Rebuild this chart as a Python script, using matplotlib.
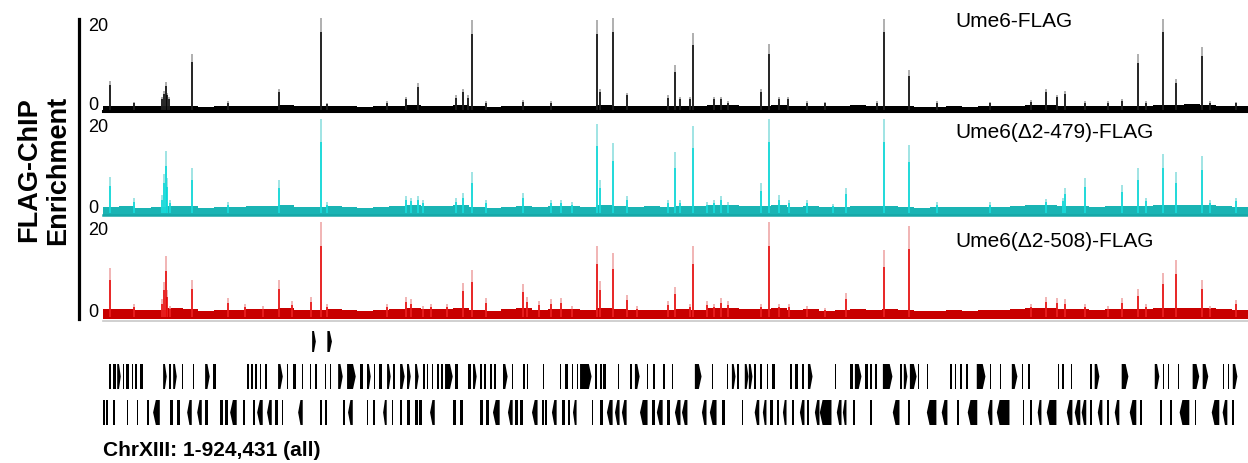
import matplotlib
matplotlib.use("Agg")
import matplotlib.pyplot as plt
from matplotlib.patches import Polygon
from matplotlib.lines import Line2D

plt.rcParams['font.family'] = ['Liberation Sans', 'DejaVu Sans']

# chromosome XIII, coordinates in kb
chrom_len = 924.431
bin_kb = 12.84

# background enrichment level, one value per 12.84 kb bin
bg_ume6 = [0.9, 1.0, 0.8, 0.9, 1.0, 0.9, 0.7, 0.8, 0.9, 1.0,
           0.9, 1.1, 0.9, 0.8, 1.0, 0.8, 0.7, 0.9, 0.9, 1.1,
           1.0, 0.9, 1.2, 0.8, 0.7, 0.8, 0.9, 0.8, 1.0, 0.9,
           0.8, 1.2, 0.9, 0.8, 0.9, 0.8, 1.0, 0.9, 1.1, 1.2,
           0.9, 1.0, 1.2, 0.9, 0.9, 0.8, 0.8, 1.1, 0.9, 1.0,
           0.8, 0.7, 0.7, 0.8, 0.7, 0.8, 0.8, 0.9, 1.1, 1.2,
           1.0, 0.9, 0.8, 0.9, 1.0, 0.9, 1.1, 1.2, 1.3, 1.1, 0.9, 0.8]
bg_d479 = [1.4, 1.6, 1.2, 1.4, 1.6, 1.5, 1.1, 1.3, 1.4, 1.6,
           1.5, 1.7, 1.4, 1.3, 1.6, 1.3, 1.2, 1.4, 1.5, 1.8,
           1.6, 1.5, 1.7, 1.3, 1.2, 1.4, 1.5, 1.3, 1.6, 1.5,
           1.3, 1.7, 1.5, 1.3, 1.5, 1.4, 1.6, 1.5, 1.7, 1.8,
           1.5, 1.6, 1.7, 1.4, 1.5, 1.3, 1.4, 1.6, 1.5, 1.6,
           1.4, 1.2, 1.3, 1.4, 1.3, 1.4, 1.4, 1.5, 1.7, 1.8,
           1.6, 1.5, 1.4, 1.5, 1.6, 1.5, 1.7, 1.8, 1.9, 1.7, 1.5, 1.4]
bg_d508 = [1.7, 1.8, 1.5, 1.6, 1.9, 1.7, 1.4, 1.5, 1.6, 1.8,
           1.7, 1.9, 1.6, 1.5, 1.8, 1.5, 1.4, 1.6, 1.7, 2.0,
           1.8, 1.7, 2.0, 1.5, 1.4, 1.8, 1.9, 1.5, 1.7, 1.8,
           1.5, 2.0, 1.7, 1.5, 1.6, 1.5, 1.8, 1.6, 1.9, 2.0,
           1.7, 1.8, 2.0, 1.6, 1.7, 1.4, 1.5, 1.8, 1.6, 1.7,
           1.5, 1.3, 1.4, 1.5, 1.4, 1.5, 1.6, 1.7, 1.9, 2.0,
           1.8, 1.7, 1.6, 1.7, 1.8, 1.7, 1.9, 2.0, 2.1, 1.9, 1.7, 1.5]

# peaks: position (kb), height (enrichment)
ume6_pos = [5.7, 25, 48, 49, 50.8, 52, 53, 71.8, 101, 142, 176, 181, 229, 245, 254, 285,
            290.5, 294.5, 298, 309, 339, 362, 399, 401, 412, 423, 456, 462, 466, 474, 476,
            493, 499, 505, 531, 537.5, 546, 553, 568, 583, 625, 630.5, 651, 673, 716, 749,
            761, 770, 776.5, 793, 811, 823, 835.5, 842, 856, 866, 887, 893.5, 915]
ume6_h = [6.8, 1.8, 3.0, 4.5, 6.6, 4.0, 3.0, 13.2, 2.0, 5.0, 21.6, 1.5, 2.0, 3.0, 6.4, 3.4,
          5.0, 3.4, 21.0, 2.0, 2.2, 2.0, 21.0, 5.0, 21.6, 4.0, 3.4, 10.5, 3.0, 3.0, 18.0,
          3.0, 3.0, 2.0, 5.0, 15.5, 3.0, 3.0, 2.0, 1.8, 2.0, 21.4, 9.3, 2.0, 1.8, 2.2,
          5.0, 3.5, 4.5, 2.0, 2.0, 2.5, 13.0, 2.0, 21.4, 7.3, 14.8, 2.0, 1.8]

d479_pos = [5.7, 25, 48, 49, 50.8, 52, 54, 71.8, 101, 142, 176, 181, 245, 249, 254, 258,
            285, 290.5, 298, 309, 339, 362, 370, 378.5, 399, 401, 412, 423, 456, 462, 466,
            476, 487.5, 493, 499, 505, 531, 537.5, 546, 554, 568, 589, 600, 630.5, 651, 673,
            716, 761, 775, 776.5, 793, 823, 835.5, 842, 856, 866, 887, 893.5, 915]
d479_h = [8.2, 3.4, 4.0, 9.0, 14.3, 8.0, 3.0, 10.2, 2.5, 7.5, 21.6, 2.5, 3.9, 3.5, 3.8, 3.0,
          3.4, 4.5, 9.3, 3.0, 4.6, 3.0, 3.0, 2.5, 20.5, 7.5, 16.0, 3.9, 3.0, 13.9, 3.0,
          20.0, 2.5, 3.0, 3.9, 2.5, 6.8, 21.6, 4.0, 3.0, 3.0, 2.0, 5.7, 21.6, 15.5, 2.5,
          2.5, 3.2, 3.5, 5.7, 8.0, 6.4, 10.2, 3.5, 13.6, 9.3, 13.0, 3.0, 3.5]

d508_pos = [5.7, 25, 48, 49, 50.8, 52, 54, 71.8, 101, 114.6, 129, 142, 152.5, 168, 176, 181,
            229, 245, 249, 258, 265, 278, 290.5, 298, 309, 339, 342, 352, 362, 370, 378.5,
            399, 401, 412, 423, 431, 456, 462, 474, 476, 487.5, 493, 499, 505, 531, 537.5,
            546, 554, 568, 583, 600, 630.5, 651, 749, 761, 770, 776.5, 793, 811, 823, 835.5,
            842, 856, 866, 887, 893.5, 915]
d508_h = [11.1, 3.0, 4.0, 8.0, 13.9, 6.0, 2.5, 8.4, 4.3, 3.0, 2.5, 8.4, 3.5, 4.5, 21.6, 3.0,
          3.0, 4.5, 4.0, 2.5, 3.0, 3.0, 7.7, 10.7, 4.3, 7.5, 4.5, 3.5, 4.0, 4.3, 2.5,
          16.1, 8.2, 14.5, 5.0, 2.5, 3.6, 6.8, 3.0, 16.1, 3.5, 3.0, 4.3, 3.5, 3.0, 21.6,
          3.0, 3.0, 2.5, 2.0, 5.4, 15.2, 20.7, 3.0, 4.5, 4.3, 4.0, 3.0, 2.5, 4.3, 6.4,
          3.0, 10.0, 13.0, 8.4, 2.5, 3.9]

track_names = ["Ume6-FLAG", "Ume6(\u03942-479)-FLAG", "Ume6(\u03942-508)-FLAG"]

# genes (start kb, end kb)
top_genes = [(168.7, 172), (181, 185)]
fwd_genes = [(4.8, 6.5), (8, 10.5), (11.3, 14.5), (16, 17), (18.6, 21), (23.4, 24.2), (25.8, 27.4),
             (29.9, 32.3), (48.4, 51.6), (53.3, 54.9), (56.5, 59.7), (63.8, 64.6), (72.6, 73.4),
             (82.3, 86.3), (88.8, 91.2), (116.2, 117.8), (119.4, 121), (122.7, 124.3), (126.7, 127.5),
             (130.7, 132.3), (141.2, 145.3), (148.5, 149.3), (153.3, 155.8), (160.6, 161.4), (167, 167.8),
             (171, 172.7), (179.2, 180), (183.2, 184), (189.7, 193.7), (196.9, 204.2), (207.4, 209.8),
             (213, 216.3), (218.7, 219.5), (222.7, 225.2), (229.2, 232.4), (234, 235.6), (239.7, 243.7),
             (245.3, 248.6), (251.8, 255), (258.2, 259.9), (261.5, 262.3), (265.5, 266.3), (269.5, 271.2),
             (272.8, 274.4), (276, 282.5), (284, 286.5), (294.6, 297), (298.6, 301.8), (304.2, 305.9),
             (307.5, 309), (312.3, 313.9), (315.5, 317.2), (322.8, 326.8), (330, 330.9), (339, 340.6),
             (342.2, 343), (355, 356), (368.8, 369.6), (372.8, 375.3), (378.5, 380), (382.5, 383.3),
             (385, 394.6), (397, 398.7), (401, 402.7), (403.5, 406), (415.6, 416.4), (425.3, 427),
             (429.3, 433.4), (439, 439.8), (443.9, 445.5), (452, 453.5), (459.2, 460), (471.3, 472),
             (475.3, 476), (477.7, 483.4), (487.4, 488.2), (491.5, 492.3), (503.6, 504.4), (507.6, 510.8),
             (511.6, 514), (518, 521.3), (521.3, 524.5), (525.3, 527), (530.2, 532.6), (535.8, 536.7),
             (539.9, 542.3), (547.9, 548.7), (554.4, 556.8), (558.4, 560.9), (564, 566.5), (569, 573),
             (590.7, 592.3), (602.8, 605.3), (606.9, 612.5), (615, 617.4), (619, 621.4), (623, 625.4),
             (629.5, 637.5), (643, 645.6), (646.4, 649.6), (651.3, 657), (657.7, 659.3), (661, 661.7),
             (665, 666.6), (675.5, 676.3), (683.5, 686), (687.6, 689.2), (691.6, 694), (697, 698.9),
             (701.3, 702), (705.3, 712.6), (715.8, 717.4), (723.9, 725.5), (733.6, 738.4), (741.6, 743.3),
             (746.5, 748.9), (753.7, 754.5), (757.8, 758.6), (761.8, 762.6), (770.7, 772.3), (774, 776.3),
             (778, 778.8), (781.2, 782.8), (796.5, 799), (800.5, 804.6), (808.6, 809.4), (814.3, 815),
             (822.3, 828), (835.2, 836), (842.5, 843.3), (849, 853), (855.4, 857), (859.5, 861),
             (867.5, 869), (879.6, 885.2), (887.7, 892.5), (903.8, 905.4), (907.9, 909.5), (912, 916),
             (922.4, 923.2)]
rev_genes = [(0, 0.8), (1, 1.6), (2.4, 4), (8, 9.7), (19.4, 20.2), (27.4, 28.2), (35.5, 37.1),
             (40.3, 46), (54, 56.5), (59.7, 62), (67.8, 71.8), (75.9, 79.9), (82.3, 84.7), (94.4, 96.8),
             (98.5, 100.9), (102.5, 108.1), (113, 114.6), (121, 122.7), (124.3, 129.1), (132.3, 136.4),
             (138.8, 141.2), (144.5, 145.3), (157.4, 161.4), (175.1, 176.7), (179.2, 180.8), (193.7, 195.3),
             (197.7, 201.8), (213, 213.9), (217.9, 219.5), (226, 229.2), (233.2, 234), (239.7, 241.3),
             (245.3, 247.7), (251.8, 254.2), (255, 257.4), (263.9, 268), (282.5, 284.9), (288, 290.5),
             (304.2, 306.7), (309, 311.5), (314.7, 320.4), (326.8, 330.9), (332.5, 334.9), (336.5, 339),
             (346.2, 351), (354.3, 355.9), (356.7, 358.3), (362.3, 366.4), (370.4, 372.8), (375.3, 376.9),
             (379.3, 382.5), (394.6, 395.4), (401, 403.5), (406.7, 411.6), (413.2, 417.2), (418.8, 422.9),
             (433.4, 439.8), (443, 445.5), (447, 452), (455, 457.6), (461.6, 466.4), (467.3, 472),
             (483.4, 487.4), (489.8, 495.5), (499.5, 502), (515.7, 516.5), (526, 530), (532.6, 535.8),
             (538.3, 540.7), (543.9, 546.3), (548.8, 552), (556, 558.4), (562.5, 566.5), (568, 570.5),
             (574.6, 578.6), (578.6, 588.3), (592.3, 596.4), (597.2, 600.4), (605.3, 606.9), (619, 621.4),
             (632.7, 633.5), (637.5, 643.2), (649.6, 651.3), (657, 657.7), (665, 673), (677, 681.9),
             (685.1, 686), (689.2, 691.6), (698, 706), (714.2, 718.2), (721.5, 732), (742.4, 744),
             (748, 750.5), (754.5, 757.8), (761.8, 769.9), (778, 782.8), (784.4, 789.2), (790, 794),
             (796.5, 799), (803, 807), (810.2, 812.6), (816.7, 820.7), (828.8, 834.4), (836.9, 839.3),
             (846.5, 847.4), (853, 855.4), (861, 863.5), (869.1, 877.2), (881.2, 882.9), (895, 901.4),
             (903.8, 907.9), (911, 913.5)]

W, H = 1248, 464
fig = plt.figure(figsize=(W / 100, H / 100), dpi=100)

def px_axes(x0, y0, x1, y1):
    return fig.add_axes([x0 / W, 1 - y1 / H, (x1 - x0) / W, (y1 - y0) / H])

tracks = [
    (bg_ume6, ume6_pos, ume6_h, 15, 113, "#000000", "#000000", "#9a9a9a", 0.93, 0.85),
    (bg_d479, d479_pos, d479_h, 116, 216, "#1ab4b4", "#00d8d8", "#86dcdc", 0.83, 0.75),
    (bg_d508, d508_pos, d508_h, 219, 320, "#c80000", "#e60000", "#eea0a0", 0.78, 0.75),
]
ymin, ymax = -0.5, 22.5
for i, (bg, pos, h, top, bot, c_bg, c_main, c_light, ty, frac) in enumerate(tracks):
    ax = px_axes(103, top, 1248, bot)
    edges = [k * bin_kb for k in range(len(bg) + 1)]
    ax.fill_between(edges, bg + [bg[-1]], ymin, step='post', color=c_bg, lw=0)
    ax.vlines(pos, 0, h, color=c_light, lw=1.1)
    ax.vlines(pos, 0, [v * frac for v in h], color=c_main, lw=1.1)
    ax.set_xlim(0, chrom_len)
    ax.set_ylim(ymin, ymax)
    ax.axis('off')
    ax.text(-0.013, 19.9, "20", transform=ax.get_yaxis_transform(), ha='left', va='center', fontsize=13)
    ax.text(-0.013, 1.3, "0", transform=ax.get_yaxis_transform(), ha='left', va='center', fontsize=13)
    ax.text(0.744, ty, track_names[i], transform=ax.transAxes, ha='left', va='center', fontsize=15)

# thick baseline under the first two tracks, thin gray line under the last
fig.add_artist(Line2D([103 / W, 1.0], [1 - 112 / H] * 2, color="black", lw=2.2))
fig.add_artist(Line2D([103 / W, 1.0], [1 - 215.5 / H] * 2, color="#16a8a8", lw=1.8))
fig.add_artist(Line2D([103 / W, 1.0], [1 - 321.5 / H] * 2, color="#c8c8c8", lw=1.2))

# vertical scale bar and y label
fig.add_artist(Line2D([79 / W] * 2, [1 - 20 / H, 1 - 320 / H], color="black", lw=2.3))
fig.text(44 / W, 1 - 170 / H, "FLAG-ChIP\nEnrichment", rotation=90, ha='center', va='center',
         fontsize=19.5, fontweight='bold', multialignment='center', linespacing=1.15)

# gene annotation rows
gax = px_axes(103, 325, 1248, 432)
gax.set_xlim(0, chrom_len)
gax.set_ylim(432, 325)
gax.axis('off')

def draw_gene(s, e, y0, y1, forward):
    s, e = s + 0.15, e - 0.15
    w = e - s
    tip = min(0.5 * w, 2.2) if w >= 2.5 else 0.0
    ym = (y0 + y1) / 2
    if forward:
        pts = [(s, y0), (e - tip, y0), (e, ym), (e - tip, y1), (s, y1)]
    else:
        pts = [(e, y0), (s + tip, y0), (s, ym), (s + tip, y1), (e, y1)]
    gax.add_patch(Polygon(pts, closed=True, facecolor='black', edgecolor='none'))

for s, e in top_genes:
    draw_gene(s, e, 332, 353, True)
for s, e in fwd_genes:
    draw_gene(s, e, 365, 390, True)
for s, e in rev_genes:
    draw_gene(s, e, 401, 426, False)

fig.text(103 / W, 1 - 451 / H, "ChrXIII: 1-924,431 (all)", ha='left', va='center',
         fontsize=15, fontweight='bold')

fig.savefig("out.png", dpi=100)
